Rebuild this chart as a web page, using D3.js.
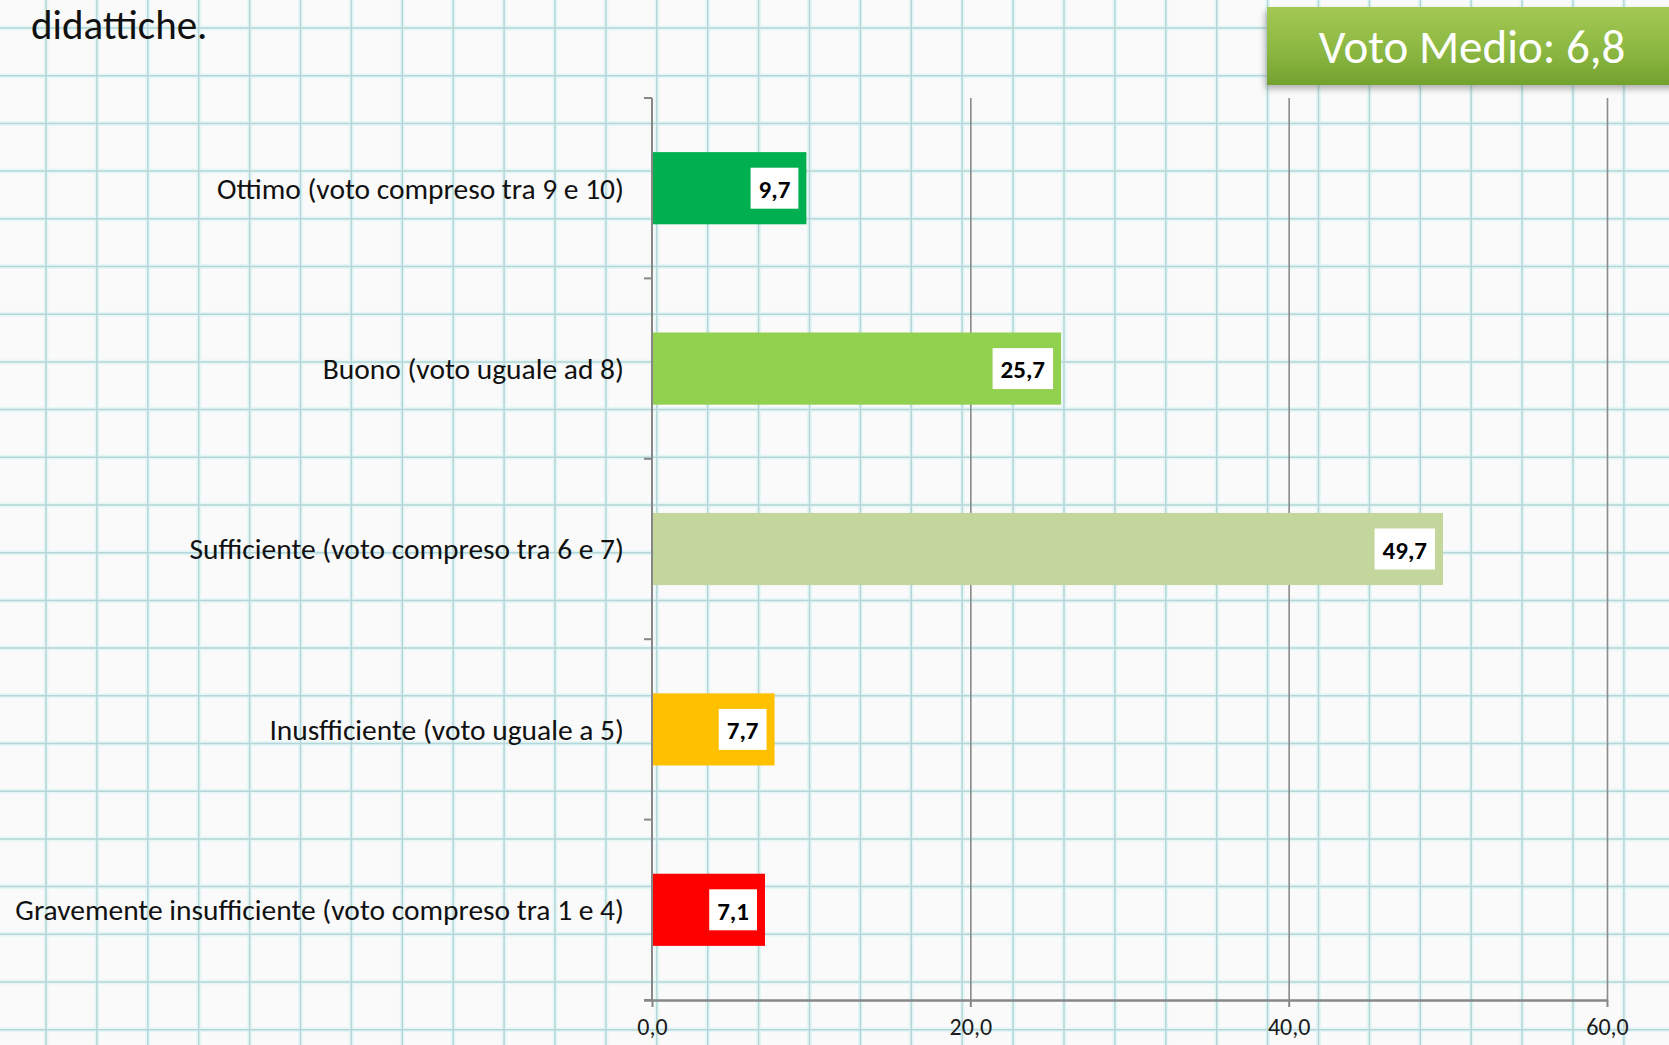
<!DOCTYPE html>
<html>
<head>
<meta charset="utf-8">
<script src="https://cdn.jsdelivr.net/npm/d3@7/dist/d3.min.js"></script>
<style>
  html, body { margin: 0; padding: 0; background: #fbfafa; }
  svg { display: block; }
  text { font-family: Carlito, Calibri, Lato, "Open Sans", sans-serif; }
</style>
</head>
<body>
<svg id="chart" width="1669" height="1045"></svg>
<script>
// Distribution of grades (percent of answers)
const categories = [
  "Ottimo (voto compreso tra 9 e 10)",
  "Buono (voto uguale ad 8)",
  "Sufficiente (voto compreso tra 6 e 7)",
  "Inusfficiente (voto uguale a 5)",
  "Gravemente insufficiente (voto compreso tra 1 e 4)"
];
const values = [9.7, 25.7, 49.7, 7.7, 7.1];
const barColors = ["#00b050", "#92d050", "#c3d69b", "#ffc000", "#ff0000"];
const xTicks = [0, 20, 40, 60];
const xDomain = [0, 60];
const headline = "didattiche.";
const badgeText = "Voto Medio: 6,8";

const W = 1669, H = 1045;
const svg = d3.select("#chart");
const defs = svg.append("defs");

// Italian number format: one decimal, comma separator
const it = d3.formatLocale({ decimal: ",", thousands: ".", grouping: [3], currency: ["€", ""] });
const fmt = it.format(".1f");

// ---- squared-paper background ----
const paper = svg.append("g").attr("class", "paper");
paper.append("rect").attr("width", W).attr("height", H).attr("fill", "#fbfafa");
const gx = d3.range(46, W + 20, 50.9);
const gy = d3.range(28, H + 20, 47.7);
function gridLines(color, width, opacity) {
  const g = paper.append("g").attr("stroke", color).attr("stroke-width", width).attr("opacity", opacity);
  g.selectAll("line.v").data(gx).join("line").attr("class", "v")
    .attr("x1", d => d).attr("x2", d => d).attr("y1", 0).attr("y2", H);
  g.selectAll("line.h").data(gy).join("line").attr("class", "h")
    .attr("y1", d => d).attr("y2", d => d).attr("x1", 0).attr("x2", W);
}
gridLines("#d2f3f4", 5, 0.5);
gridLines("#94c2c5", 1.5, 0.6);

// ---- plot scales ----
const plot = { left: 652, right: 1607, top: 98, bottom: 1000 };
const x = d3.scaleLinear().domain(xDomain).range([plot.left, plot.right]);
const y = d3.scaleBand().domain(categories).range([plot.top, plot.bottom])
  .paddingInner(0.6).paddingOuter(0.3);

// vertical gridlines
const grid = svg.append("g")
  .attr("transform", `translate(0,${plot.bottom})`)
  .call(d3.axisBottom(x).tickValues(xTicks.filter(v => v > 0))
    .tickSize(-(plot.bottom - plot.top)).tickFormat(""));
grid.select(".domain").remove();
grid.selectAll("line").attr("stroke", "#8a8a8a").attr("stroke-width", 1.6);

// bars
svg.append("g").selectAll("rect").data(values).join("rect")
  .attr("x", x(0))
  .attr("y", (d, i) => y(categories[i]))
  .attr("width", d => x(d) - x(0))
  .attr("height", y.bandwidth())
  .attr("fill", (d, i) => barColors[i]);

// left axis: line plus ticks at category boundaries
const leftAxis = svg.append("g").attr("stroke", "#878787").attr("stroke-width", 2);
leftAxis.append("line").attr("x1", x(0)).attr("x2", x(0))
  .attr("y1", plot.top).attr("y2", plot.bottom);
const boundaries = d3.range(categories.length + 1).map(i => plot.top + i * y.step());
leftAxis.selectAll("line.tick").data(boundaries).join("line").attr("class", "tick")
  .attr("x1", x(0) - 8).attr("x2", x(0)).attr("y1", d => d).attr("y2", d => d);

// bottom axis
const xAxis = svg.append("g")
  .attr("transform", `translate(0,${plot.bottom})`)
  .call(d3.axisBottom(x).tickValues(xTicks).tickFormat(fmt).tickSize(7).tickSizeOuter(0));
xAxis.select(".domain").attr("stroke", "#878787").attr("stroke-width", 2.4)
  .attr("d", `M${x(0) - 8},0.5H${x(60)}`);
xAxis.selectAll(".tick line").attr("stroke", "#878787").attr("stroke-width", 2);
xAxis.selectAll(".tick text")
  .attr("y", 35).attr("dy", 0)
  .attr("fill", "#1a1a1a")
  .style("font-size", "24px")
  .style("font-family", 'Carlito, Calibri, Lato, "Open Sans", sans-serif');

// category labels
const catLabels = svg.append("g").selectAll("text").data(categories).join("text")
  .attr("x", 624)
  .attr("y", d => y(d) + y.bandwidth() / 2)
  .attr("dy", "0.35em")
  .attr("text-anchor", "end")
  .attr("fill", "#111")
  .style("font-size", "24px")
  .text(d => d);
// fit the longest label to its available width
let longest = 0;
catLabels.each(function () { longest = Math.max(longest, this.getComputedTextLength()); });
const catSize = 24 * 609 / longest;
catLabels.style("font-size", catSize + "px");

// value labels: white boxes at the end of each bar
const vl = svg.append("g").selectAll("g").data(values).join("g");
vl.append("text")
  .attr("text-anchor", "middle")
  .attr("dy", "0.35em")
  .attr("fill", "#000")
  .style("font-size", "25px")
  .style("font-weight", "bold")
  .text(d => fmt(d));
vl.each(function (d, i) {
  const g = d3.select(this);
  const t = g.select("text");
  const tw = t.node().getComputedTextLength();
  const bw = tw + 16, bh = 41;
  const cx = x(d) - 8 - bw / 2;
  const cy = y(categories[i]) + y.bandwidth() / 2;
  g.insert("rect", "text")
    .attr("x", cx - bw / 2).attr("y", cy - bh / 2)
    .attr("width", bw).attr("height", bh)
    .attr("fill", "#fff");
  t.attr("x", cx).attr("y", cy + 1);
});

// headline fragment at top-left
svg.append("text")
  .attr("x", 31).attr("y", 39)
  .attr("fill", "#111")
  .style("font-size", "41px")
  .text(headline);

// average grade badge
const grad = defs.append("linearGradient").attr("id", "badgeGrad")
  .attr("x1", 0).attr("y1", 0).attr("x2", 0).attr("y2", 1);
grad.append("stop").attr("offset", "0%").attr("stop-color", "#a3c853");
grad.append("stop").attr("offset", "55%").attr("stop-color", "#8cb842");
grad.append("stop").attr("offset", "100%").attr("stop-color", "#73a12e");
const blur = defs.append("filter").attr("id", "badgeShadow")
  .attr("x", "-10%").attr("y", "-20%").attr("width", "130%").attr("height", "160%");
blur.append("feGaussianBlur").attr("stdDeviation", 3);
svg.append("rect").attr("x", 1265).attr("y", 11).attr("width", 430).attr("height", 78)
  .attr("fill", "#777").attr("opacity", 0.55).attr("filter", "url(#badgeShadow)");
svg.append("rect").attr("x", 1267).attr("y", 7).attr("width", 430).attr("height", 78)
  .attr("fill", "url(#badgeGrad)");
svg.append("text")
  .attr("x", 1472).attr("y", 63)
  .attr("text-anchor", "middle")
  .attr("fill", "#fff")
  .style("font-size", "47px")
  .text(badgeText);
</script>
</body>
</html>
